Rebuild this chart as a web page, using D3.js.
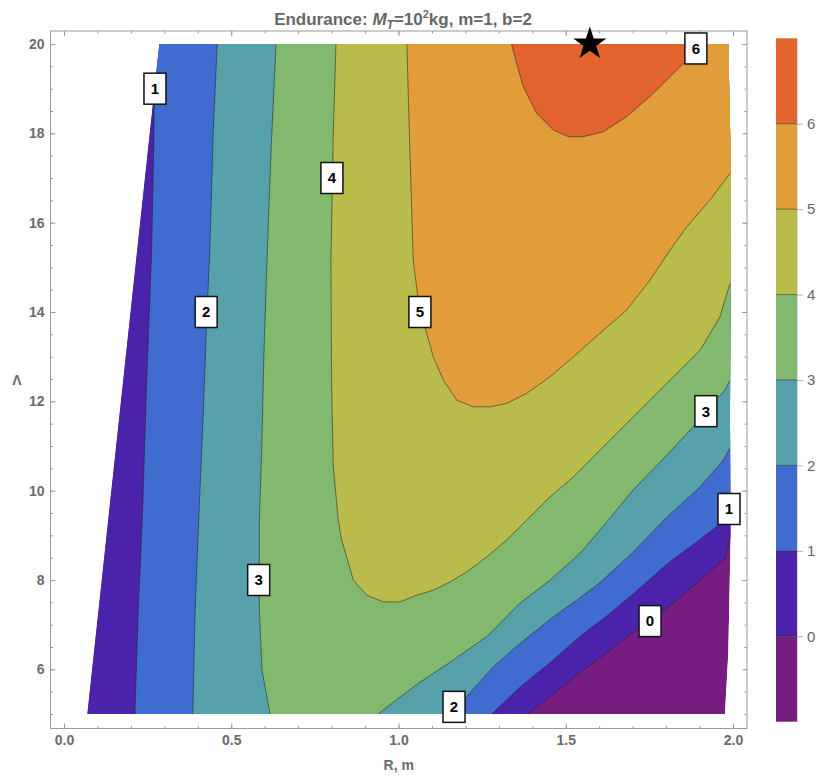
<!DOCTYPE html>
<html>
<head>
<meta charset="utf-8">
<script src="https://cdn.jsdelivr.net/npm/d3@7"></script>
<style>
  body { margin: 0; background: #fff; }
  svg { display: block; }
  text { font-family: "Liberation Sans", Arial, Helvetica, sans-serif; }
</style>
</head>
<body>
<svg id="chart" width="817" height="778"></svg>
<script>
// ---- data -----------------------------------------------------------------
// contour levels and the fill colour of each band (below 0, 0-1, ..., above 6)
const levels = [0, 1, 2, 3, 4, 5, 6];
const bandColors = ["#771d80", "#4b22aa", "#406bcf", "#57a2aa", "#82b96e", "#b9bb4a", "#e19d39", "#e3642e"];

// feasible (R, Λ) region
const domainOutline = [[0.0697, 5], [0.285, 20], [1.986, 20], [1.994, 17.11], [1.991, 11.58],
                       [1.993, 8.96], [1.986, 6.36], [1.976, 5]];

// iso-endurance lines, each traced with higher values on its left-hand side
const iso0 = [[1.387, 5], [1.462, 5.443], [1.543, 5.935], [1.602, 6.249], [1.701, 6.831], [1.802, 7.369],
              [1.895, 7.951], [1.976, 8.482], [1.993, 9.004]];
const iso1Right = [[1.279, 5], [1.363, 5.599], [1.462, 6.204], [1.543, 6.741], [1.622, 7.189], [1.701, 7.682],
                   [1.802, 8.354], [1.891, 8.847], [1.956, 9.227], [1.993, 9.451]];
const iso1Left = [[0.270, 18.858], [0.268, 17.626], [0.262, 15.386], [0.247, 12.408], [0.235, 9.563],
                  [0.222, 7.324], [0.212, 5]];
const iso2Right = [[1.157, 5], [1.199, 5.346], [1.283, 6.054], [1.363, 6.578], [1.463, 7.174], [1.533, 7.548],
                   [1.602, 7.939], [1.701, 8.623], [1.802, 9.406], [1.902, 10.085], [1.971, 10.683], [1.991, 10.952]];
const iso2Left = [[0.458, 20], [0.446, 18.007], [0.436, 15.386], [0.427, 13.892], [0.416, 11.653],
                  [0.404, 9.563], [0.392, 7.324], [0.385, 5]];
const iso3Right = [[0.939, 5], [1.004, 5.375], [1.064, 5.711], [1.163, 6.204], [1.265, 6.741], [1.363, 7.48],
                   [1.453, 7.995], [1.543, 8.6], [1.617, 9.25], [1.701, 10.011], [1.802, 10.795], [1.88, 11.422],
                   [1.94, 11.96], [1.976, 12.251], [1.991, 12.475]];
const iso3Left = [[0.634, 20], [0.619, 17.626], [0.608, 15.386], [0.598, 13.147], [0.591, 10.907],
                  [0.584, 9.339], [0.584, 7.324], [0.592, 5.98], [0.616, 5]];
const iso4 = [[0.813, 20], [0.805, 18.007], [0.798, 15.162], [0.8, 12.408], [0.805, 10.533], [0.82, 9.339],
              [0.83, 8.891], [0.845, 8.517], [0.865, 7.995], [0.905, 7.659], [0.955, 7.51], [1.004, 7.51],
              [1.054, 7.659], [1.104, 7.771], [1.154, 7.957], [1.204, 8.181], [1.264, 8.517], [1.323, 8.891],
              [1.383, 9.339], [1.453, 9.861], [1.523, 10.309], [1.602, 10.907], [1.702, 11.653], [1.802, 12.401],
              [1.902, 13.147], [1.961, 13.892], [1.991, 14.64]];
const iso5 = [[1.025, 20], [1.034, 17.626], [1.044, 15.162], [1.059, 14.267], [1.084, 13.521], [1.104, 12.997],
              [1.134, 12.475], [1.174, 12.027], [1.224, 11.877], [1.274, 11.877], [1.323, 11.953], [1.383, 12.177],
              [1.453, 12.549], [1.523, 12.997], [1.602, 13.521], [1.682, 14.043], [1.752, 14.714], [1.812, 15.386],
              [1.862, 15.908], [1.931, 16.506], [1.991, 17.104]];
const iso6 = [[1.338, 20], [1.353, 19.568], [1.373, 19.044], [1.413, 18.448], [1.463, 18.074], [1.508, 17.924],
              [1.552, 17.924], [1.612, 18.036], [1.682, 18.372], [1.762, 18.896], [1.832, 19.418], [1.862, 19.642],
              [1.907, 20]];

const isoLines = [
  { level: 0, points: iso0 },
  { level: 1, points: iso1Left }, { level: 1, points: iso1Right },
  { level: 2, points: iso2Left }, { level: 2, points: iso2Right },
  { level: 3, points: iso3Left }, { level: 3, points: iso3Right },
  { level: 4, points: iso4 },
  { level: 5, points: iso5 },
  { level: 6, points: iso6 }
];

// inline level labels, anchored on their lines (R, Λ)
const isoLabels = [
  { text: "1", at: [0.272, 19.0] }, { text: "4", at: [0.801, 17.0] },
  { text: "2", at: [0.425, 14.0] }, { text: "5", at: [1.064, 14.0] },
  { text: "3", at: [0.582, 8.0] }, { text: "3", at: [1.919, 11.78] },
  { text: "1", at: [1.988, 9.59] }, { text: "0", at: [1.752, 7.08] },
  { text: "2", at: [1.166, 5.16] }, { text: "6", at: [1.889, 19.9] }
];

// best point
const optimum = [1.572, 20];

// ticks
const xTicks = [0, 0.5, 1, 1.5, 2];
const yTicks = [6, 8, 10, 12, 14, 16, 18, 20];
const legendTicks = [0, 1, 2, 3, 4, 5, 6];
const legendSpan = [-1, 7];

// ---- layout ---------------------------------------------------------------
const svg = d3.select("#chart");
const frame = { left: 50.5, right: 747, top: 31, bottom: 728.5 };
const x = d3.scaleLinear().domain([0, 2]).range([64, 733]);
const y = d3.scaleLinear().domain([5, 20]).range([714, 44]);
const axisGray = "#9a9a9a";
const labelGray = "#6b6b6b";

const line = d3.line().x(d => x(d[0])).y(d => y(d[1]));
const ring = pts => line(pts) + "Z";

// closing a line into the region on its high side, walking a box round the domain
const BOX = { x0: -1, x1: 3, y0: 0, y1: 25 };
const boxCorners = [[BOX.x0, BOX.y0], [BOX.x1, BOX.y0], [BOX.x1, BOX.y1], [BOX.x0, BOX.y1]];
function project(p) {
  if (Math.abs(p[1] - 5) < 1e-6) return [p[0], BOX.y0];
  if (Math.abs(p[1] - 20) < 1e-6) return [p[0], BOX.y1];
  return p[0] > 1 ? [BOX.x1, p[1]] : [BOX.x0, p[1]];
}
function perimeter(q) {
  const w = BOX.x1 - BOX.x0, h = BOX.y1 - BOX.y0;
  if (q[1] === BOX.y0) return (q[0] - BOX.x0) / w;
  if (q[0] === BOX.x1) return 1 + (q[1] - BOX.y0) / h;
  if (q[1] === BOX.y1) return 2 + (BOX.x1 - q[0]) / w;
  return 3 + (BOX.y1 - q[1]) / h;
}
function highSide(pts) {
  const a = project(pts[0]), b = project(pts[pts.length - 1]);
  const t0 = perimeter(b);
  let t1 = perimeter(a);
  if (t1 <= t0) t1 += 4;
  const out = pts.slice();
  out.push(b);
  for (let k = Math.floor(t0) + 1; k < t1; k++) out.push(boxCorners[k % 4]);
  out.push(a);
  return out;
}

// ---- filled bands ---------------------------------------------------------
const defs = svg.append("defs");
defs.append("clipPath").attr("id", "clip-domain").append("path").attr("d", ring(domainOutline));

const plot = svg.append("g").attr("clip-path", "url(#clip-domain)");
plot.append("path").attr("d", ring(domainOutline)).attr("fill", bandColors[0]);

levels.forEach((lv, i) => {
  let g = plot;
  isoLines.filter(c => c.level === lv).forEach((c, j) => {
    const id = `high-${lv}-${j}`;
    defs.append("clipPath").attr("id", id).append("path").attr("d", ring(highSide(c.points)));
    g = g.append("g").attr("clip-path", `url(#${id})`);
  });
  g.append("rect")
    .attr("x", frame.left).attr("y", frame.top)
    .attr("width", frame.right - frame.left).attr("height", frame.bottom - frame.top)
    .attr("fill", bandColors[i + 1]);
});

// iso lines
plot.selectAll("path.iso").data(isoLines).join("path")
  .attr("class", "iso")
  .attr("d", d => line(d.points))
  .attr("fill", "none")
  .attr("stroke", "#222")
  .attr("stroke-opacity", 0.55)
  .attr("stroke-width", 1)
  .attr("stroke-linejoin", "round");

// ---- frame and ticks ------------------------------------------------------
const xFrame = d3.scaleLinear().domain(x.domain()).range(x.range());
const minorX = d3.range(0, 2.0001, 0.1).map(v => +v.toFixed(1));
const minorY = d3.range(5, 20.0001, 0.5);

function styleAxis(g) {
  g.selectAll(".domain").remove();
  g.selectAll("line").attr("stroke", axisGray);
  g.selectAll("text").attr("fill", labelGray).attr("font-size", "14px").attr("font-weight", "bold");
}

svg.append("g").attr("transform", `translate(0,${frame.bottom})`)
  .call(d3.axisBottom(xFrame).tickValues(minorX).tickSize(-2.5).tickFormat("")).call(styleAxis);
svg.append("g").attr("transform", `translate(0,${frame.bottom})`)
  .call(d3.axisBottom(xFrame).tickValues(xTicks).tickSize(-5).tickPadding(7).tickFormat(d3.format(".1f")))
  .call(styleAxis);
svg.append("g").attr("transform", `translate(0,${frame.top})`)
  .call(d3.axisTop(xFrame).tickValues(minorX).tickSize(-2.5).tickFormat("")).call(styleAxis);
svg.append("g").attr("transform", `translate(0,${frame.top})`)
  .call(d3.axisTop(xFrame).tickValues(xTicks).tickSize(-5).tickFormat("")).call(styleAxis);

svg.append("g").attr("transform", `translate(${frame.left},0)`)
  .call(d3.axisLeft(y).tickValues(minorY).tickSize(-2.5).tickFormat("")).call(styleAxis);
svg.append("g").attr("transform", `translate(${frame.left},0)`)
  .call(d3.axisLeft(y).tickValues(yTicks).tickSize(-5).tickPadding(6)).call(styleAxis);
svg.append("g").attr("transform", `translate(${frame.right},0)`)
  .call(d3.axisRight(y).tickValues(minorY).tickSize(-2.5).tickFormat("")).call(styleAxis);
svg.append("g").attr("transform", `translate(${frame.right},0)`)
  .call(d3.axisRight(y).tickValues(yTicks).tickSize(-5).tickFormat("")).call(styleAxis);

svg.append("rect")
  .attr("x", frame.left).attr("y", frame.top)
  .attr("width", frame.right - frame.left).attr("height", frame.bottom - frame.top)
  .attr("fill", "none").attr("stroke", axisGray).attr("stroke-width", 1);

// ---- labels on lines ------------------------------------------------------
const lab = svg.append("g").selectAll("g").data(isoLabels).join("g")
  .attr("transform", d => `translate(${x(d.at[0])},${y(d.at[1])})`);
lab.append("rect")
  .attr("x", -11).attr("y", -15.5).attr("width", 22).attr("height", 31)
  .attr("fill", "#fff").attr("stroke", "#111").attr("stroke-width", 1.5);
lab.append("text")
  .attr("text-anchor", "middle").attr("dy", "0.36em")
  .attr("font-size", "15px").attr("font-weight", "bold").attr("fill", "#000")
  .text(d => d.text);

// ---- optimum marker -------------------------------------------------------
svg.append("path")
  .attr("transform", `translate(${x(optimum[0])},${y(optimum[1])})`)
  .attr("d", d3.symbol(d3.symbolStar).size(340)())
  .attr("fill", "#000");

// ---- titles ---------------------------------------------------------------
const title = svg.append("text")
  .attr("x", 403).attr("y", 25).attr("text-anchor", "middle")
  .attr("font-size", "17px").attr("font-weight", "bold").attr("fill", "#666");
title.append("tspan").text("Endurance: ");
title.append("tspan").attr("font-style", "italic").text("M");
title.append("tspan").attr("font-style", "italic").attr("font-size", "12px").attr("dy", 4).text("T");
title.append("tspan").attr("dy", -4).text("=10");
title.append("tspan").attr("font-size", "11px").attr("dy", -7).text("2");
title.append("tspan").attr("dy", 7).text("kg, m=1, b=2");

svg.append("text")
  .attr("x", (frame.left + frame.right) / 2).attr("y", 770).attr("text-anchor", "middle")
  .attr("font-size", "14px").attr("font-weight", "bold").attr("fill", labelGray)
  .text("R, m");
svg.append("text")
  .attr("x", 17).attr("y", (frame.top + frame.bottom) / 2 + 5).attr("text-anchor", "middle")
  .attr("font-size", "14px").attr("font-weight", "bold").attr("fill", labelGray)
  .text("Λ");

// ---- colour bar -----------------------------------------------------------
const c = d3.scaleLinear().domain(legendSpan).range([721.7, 38.3]);
const bar = { x: 776, w: 21 };
const bandEdges = [legendSpan[0], ...levels, legendSpan[1]];
const legend = svg.append("g");
legend.selectAll("rect.band").data(bandColors).join("rect")
  .attr("class", "band")
  .attr("x", bar.x).attr("width", bar.w)
  .attr("y", (d, i) => c(bandEdges[i + 1]))
  .attr("height", (d, i) => c(bandEdges[i]) - c(bandEdges[i + 1]))
  .attr("fill", d => d);
legend.selectAll("line.sep").data(levels).join("line")
  .attr("class", "sep")
  .attr("x1", bar.x).attr("x2", bar.x + bar.w)
  .attr("y1", d => c(d)).attr("y2", d => c(d))
  .attr("stroke", "#222").attr("stroke-opacity", 0.55).attr("stroke-width", 1);
legend.append("g").attr("transform", `translate(${bar.x + bar.w},0)`)
  .call(d3.axisRight(c).tickValues(legendTicks).tickSize(6).tickPadding(4).tickSizeOuter(0))
  .call(g => {
    g.select(".domain").attr("stroke", "#d0d0d0").attr("stroke-width", 0.8);
    g.selectAll("line").attr("stroke", "#b0b0b0");
    g.selectAll("text").attr("fill", "#666").attr("font-size", "15px");
  });
</script>
</body>
</html>
